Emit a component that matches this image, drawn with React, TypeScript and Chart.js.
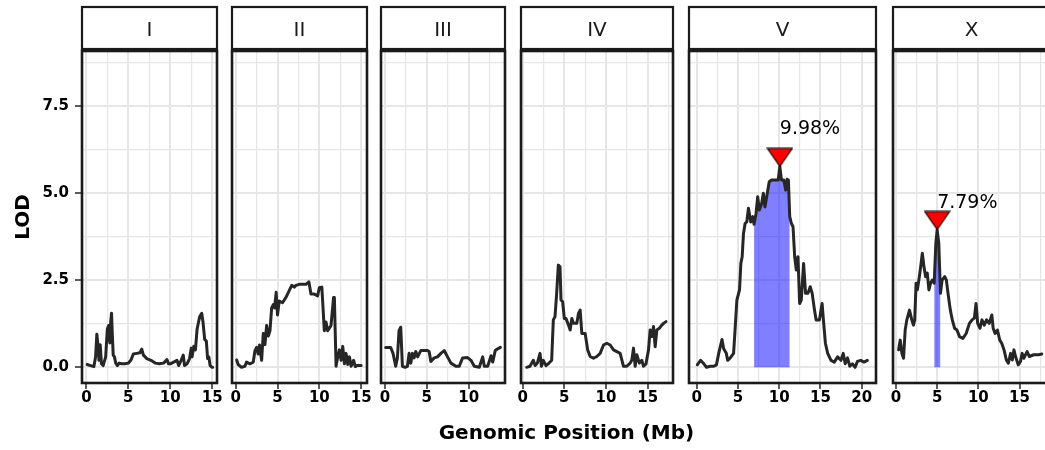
import React, { useEffect, useRef } from 'react';
import { Chart, registerables } from 'chart.js';

Chart.register(...registerables);

// ---------- data ----------
const chromNames = ['I', 'II', 'III', 'IV', 'V', 'X'];

const posI = [0.1, 0.5, 0.9, 1.1, 1.25, 1.4, 1.5, 1.65, 1.8, 2.0, 2.3, 2.5, 2.65, 2.8, 2.9, 3.0, 3.1, 3.2, 3.35, 3.5, 3.7, 3.9, 4.2, 4.6, 5.0, 5.3, 5.6, 6.0, 6.4, 6.6, 6.8, 7.2, 7.7, 8.2, 8.7, 9.2, 9.6, 9.8, 10.0, 10.4, 10.8, 11.0, 11.3, 11.55, 11.7, 12.0, 12.3, 12.5, 12.6, 12.8, 13.0, 13.2, 13.5, 13.75, 13.9, 14.1, 14.3, 14.45, 14.6, 14.75, 14.95, 15.05];
const lodI = [0.08, 0.05, 0.02, 0.3, 0.95, 0.6, 0.2, 0.65, 0.1, 0.05, 0.3, 1.1, 1.2, 0.7, 1.3, 1.55, 0.9, 0.35, 0.3, 0.12, 0.05, 0.12, 0.1, 0.1, 0.12, 0.2, 0.38, 0.4, 0.42, 0.52, 0.35, 0.25, 0.2, 0.12, 0.1, 0.12, 0.22, 0.1, 0.1, 0.15, 0.2, 0.05, 0.2, 0.35, 0.05, 0.1, 0.25, 0.55, 0.3, 0.6, 0.5, 1.1, 1.45, 1.55, 1.3, 0.8, 0.75, 0.25, 0.3, 0.05, 0.0, 0.0];

const posII = [0.12, 0.3, 0.7, 1.1, 1.3, 1.7, 2.1, 2.3, 2.5, 2.7, 2.85, 3.1, 3.3, 3.5, 3.7, 3.9, 4.1, 4.3, 4.5, 4.65, 4.84, 5.0, 5.2, 5.6, 6.0, 6.2, 6.4, 6.7, 7.0, 7.2, 7.6, 8.0, 8.4, 8.75, 9.0, 9.4, 9.8, 10.0, 10.3, 10.6, 10.8, 11.0, 11.4, 11.7, 11.8, 12.0, 12.2, 12.4, 12.6, 12.8, 13.0, 13.2, 13.4, 13.6, 13.8, 14.1, 14.3, 14.5, 15.0];
const lodII = [0.21, 0.08, 0.0, 0.03, 0.15, 0.1, 0.15, 0.47, 0.57, 0.38, 0.64, 0.2, 0.97, 0.65, 1.2, 0.9, 1.05, 1.7, 1.8, 1.7, 2.15, 1.5, 1.9, 1.85, 2.0, 2.1, 2.2, 2.35, 2.3, 2.35, 2.38, 2.38, 2.38, 2.45, 2.1, 2.1, 2.05, 2.28, 2.3, 1.05, 1.3, 1.05, 1.2, 2.0, 2.0, 0.03, 0.3, 0.5, 0.2, 0.6, 0.1, 0.4, 0.08, 0.3, 0.03, 0.2, 0.02, 0.05, 0.05];

const posIII = [0.08, 0.68, 0.96, 1.28, 1.48, 1.68, 1.88, 2.08, 2.4, 2.68, 2.88, 3.08, 3.28, 3.48, 3.68, 3.9, 4.28, 4.68, 5.08, 5.28, 5.48, 5.88, 6.28, 6.68, 7.08, 7.48, 7.88, 8.48, 8.88, 9.28, 9.88, 10.28, 10.68, 11.28, 11.68, 11.88, 12.28, 12.68, 12.88, 13.18, 13.48, 13.8];
const lodIII = [0.57, 0.57, 0.4, 0.03, 0.27, 1.05, 1.15, 0.03, 0.0, 0.03, 0.4, 0.12, 0.4, 0.27, 0.45, 0.3, 0.48, 0.48, 0.48, 0.45, 0.17, 0.27, 0.3, 0.4, 0.48, 0.3, 0.12, 0.03, 0.03, 0.27, 0.28, 0.2, 0.03, 0.0, 0.3, 0.03, 0.03, 0.33, 0.15, 0.48, 0.53, 0.57];

const posIV = [0.48, 0.88, 1.28, 1.5, 1.76, 2.08, 2.25, 2.48, 2.8, 3.08, 3.48, 3.68, 3.88, 4.08, 4.28, 4.48, 4.6, 4.8, 5.0, 5.2, 5.5, 5.7, 5.9, 6.1, 6.5, 6.7, 6.9, 7.1, 7.5, 7.8, 8.1, 8.5, 8.9, 9.3, 9.7, 10.1, 10.5, 10.9, 11.3, 11.7, 12.1, 12.5, 12.9, 13.1, 13.3, 13.5, 13.7, 14.0, 14.3, 14.5, 14.8, 15.1, 15.3, 15.5, 15.7, 15.9, 16.1, 16.4, 16.7, 16.9, 17.2];
const lodIV = [0.0, 0.03, 0.2, 0.05, 0.12, 0.4, 0.03, 0.2, 0.05, 0.1, 0.2, 1.36, 1.45, 2.12, 2.93, 2.88, 1.93, 1.88, 1.4, 1.4, 1.21, 1.07, 1.4, 1.26, 1.26, 1.55, 1.64, 0.97, 0.97, 0.5, 0.31, 0.26, 0.31, 0.4, 0.64, 0.69, 0.64, 0.5, 0.45, 0.4, 0.03, 0.03, 0.12, 0.21, 0.55, 0.03, 0.36, 0.12, 0.2, 0.03, 0.1, 0.5, 1.07, 0.88, 1.17, 0.59, 1.07, 1.12, 1.21, 1.26, 1.31];

const posV = [0.08, 0.48, 0.88, 1.2, 1.68, 2.08, 2.4, 2.68, 3.08, 3.28, 3.6, 3.76, 4.08, 4.48, 4.68, 4.88, 5.2, 5.36, 5.52, 5.68, 5.88, 6.08, 6.28, 6.56, 6.8, 6.96, 7.2, 7.4, 7.6, 7.88, 8.08, 8.28, 8.56, 8.8, 9.08, 9.48, 9.88, 10.08, 10.28, 10.56, 10.8, 10.96, 11.12, 11.28, 11.48, 11.68, 11.88, 12.08, 12.28, 12.48, 12.68, 12.96, 13.2, 13.48, 13.76, 14.0, 14.28, 14.48, 14.88, 15.2, 15.36, 15.6, 15.88, 16.28, 16.68, 17.08, 17.48, 17.76, 18.0, 18.28, 18.56, 18.88, 19.2, 19.48, 19.88, 20.28, 20.68];
const lodV = [0.07, 0.2, 0.1, 0.0, 0.03, 0.03, 0.07, 0.4, 0.8, 0.53, 0.4, 0.2, 0.27, 0.4, 1.16, 1.93, 2.22, 2.98, 3.17, 3.84, 4.13, 4.17, 4.56, 4.17, 4.32, 4.1, 4.41, 4.89, 4.51, 4.7, 4.99, 4.6, 4.99, 5.32, 5.37, 5.37, 5.37, 5.75, 5.37, 5.37, 5.08, 5.39, 5.37, 4.32, 4.13, 4.03, 3.17, 2.79, 3.17, 1.83, 1.93, 2.98, 2.12, 2.12, 2.31, 2.12, 1.64, 1.36, 1.36, 1.83, 1.36, 0.69, 0.4, 0.2, 0.15, 0.3, 0.2, 0.4, 0.1, 0.27, 0.03, 0.1, 0.0, 0.17, 0.2, 0.15, 0.2];

const posX = [0.32, 0.52, 0.72, 0.92, 1.12, 1.32, 1.64, 1.92, 2.12, 2.28, 2.44, 2.6, 2.84, 3.0, 3.2, 3.4, 3.6, 3.8, 4.0, 4.2, 4.4, 4.64, 4.84, 5.0, 5.2, 5.4, 5.6, 5.92, 6.12, 6.32, 6.6, 6.84, 7.12, 7.4, 7.72, 8.12, 8.52, 8.92, 9.24, 9.52, 9.72, 9.92, 10.2, 10.44, 10.72, 11.0, 11.32, 11.64, 11.8, 12.04, 12.32, 12.6, 12.84, 13.12, 13.4, 13.64, 13.92, 14.12, 14.32, 14.52, 14.84, 15.12, 15.32, 15.52, 15.92, 16.2, 16.72, 17.32, 17.7];
const lodX = [0.5, 0.78, 0.4, 0.26, 1.07, 1.36, 1.64, 1.36, 1.21, 1.36, 2.41, 2.22, 2.6, 2.88, 3.27, 2.88, 2.6, 2.7, 2.22, 2.41, 2.5, 2.41, 3.55, 3.94, 3.55, 2.12, 2.5, 2.6, 2.5, 2.12, 1.64, 1.36, 1.12, 1.07, 0.88, 0.83, 0.97, 1.26, 1.36, 1.41, 1.83, 1.26, 1.12, 1.36, 1.21, 1.36, 1.26, 1.5, 1.12, 0.97, 1.07, 0.78, 0.69, 0.5, 0.21, 0.12, 0.4, 0.21, 0.5, 0.31, 0.07, 0.17, 0.4, 0.26, 0.45, 0.31, 0.36, 0.36, 0.38];

const chromPos = [posI, posII, posIII, posIV, posV, posX];
const chromLod = [lodI, lodII, lodIII, lodIV, lodV, lodX];

// axis ranges (Mb) per facet, and LOD range
const axisMin = [-0.52, -0.44, -0.48, -0.2, -0.92, -0.36];
const axisMax = [15.57, 15.7, 14.35, 18.04, 21.73, 18.7];
const lodMin = -0.45;
const lodMax = 9.07;

const xTickMajor = [0, 5, 10, 15, 20];
const xTickMinor = [2.5, 7.5, 12.5, 17.5];
const yTickMajor = [0, 2.5, 5, 7.5];
const yTickMinor = [1.25, 3.75, 6.25, 8.75];

// QTL peaks
const peakChrom = ['V', 'X'];
const peakPos = [10.08, 5.0];
const peakLod = [5.75, 3.94];
const peakLabel = ['9.98%', '7.79%'];
const labelLod = [6.9, 4.76];
const ciLeft = [6.93, 4.6];
const ciRight = [11.28, 5.4];

// ---------- layout / style ----------
const FONT = "'DejaVu Sans', sans-serif";
const PX_PER_MB = 8.33;
const FIRST_LEFT = 82;
const GAP = 15.5;
const TOP = 51;
const BOTTOM = 383;
const H = 450;
const PAD = 10;
const TRI_OFFSET = 0.27;

function computeLayout() {
  const out: { L: number; R: number; cl: number; cw: number }[] = [];
  let L = FIRST_LEFT;
  for (let i = 0; i < chromNames.length; i++) {
    const R = L + (axisMax[i] - axisMin[i]) * PX_PER_MB;
    const cl = i === 0 ? 0 : L - PAD;
    const cw = Math.ceil(R + PAD - cl);
    out.push({ L, R, cl, cw });
    L = R + GAP;
  }
  return out;
}

function makeTriangle() {
  const c = document.createElement('canvas');
  c.width = 27;
  c.height = 20;
  const g = c.getContext('2d')!;
  g.beginPath();
  g.moveTo(1, 1);
  g.lineTo(26, 1);
  g.lineTo(13.5, 19);
  g.closePath();
  g.fillStyle = '#FF0000';
  g.fill();
  g.lineWidth = 1.2;
  g.strokeStyle = '#000000';
  g.stroke();
  return c;
}

const isIn = (arr: number[], v: number) => arr.some((a) => Math.abs(a - v) < 1e-6);

function buildConfig(i: number, tri: HTMLCanvasElement): any {
  const name = chromNames[i];
  const first = i === 0;
  const pts = chromPos[i].map((x, k) => ({ x, y: chromLod[i][k] }));
  const datasets: any[] = [
    {
      data: pts,
      borderColor: '#262626',
      borderWidth: 3,
      pointRadius: 0,
      fill: false,
      tension: 0,
      borderJoinStyle: 'round',
      borderCapStyle: 'round',
      order: 2,
    },
  ];
  peakChrom.forEach((c, k) => {
    if (c !== name) return;
    datasets.push({
      data: pts.filter((p) => p.x >= ciLeft[k] - 1e-9 && p.x <= ciRight[k] + 1e-9),
      borderColor: 'rgba(0,0,0,0)',
      borderWidth: 0,
      pointRadius: 0,
      fill: 'origin',
      backgroundColor: 'rgba(0,0,255,0.5)',
      tension: 0,
      order: 3,
    });
    datasets.push({
      data: [{ x: peakPos[k], y: peakLod[k] + TRI_OFFSET }],
      showLine: false,
      pointStyle: tri,
      pointRadius: 10,
      order: 1,
      clip: false,
    });
  });

  const xTicks = [...xTickMajor, ...xTickMinor]
    .filter((v) => v >= axisMin[i] && v <= axisMax[i])
    .sort((a, b) => a - b);
  const yTicks = [...yTickMajor, ...yTickMinor].sort((a, b) => a - b);

  const facetPlugin = {
    id: 'facet' + i,
    afterDatasetsDraw(chart: any) {
      const ctx = chart.ctx;
      const xs = chart.scales.x;
      const ys = chart.scales.y;
      ctx.save();
      ctx.font = `19px ${FONT}`;
      ctx.fillStyle = '#000';
      ctx.textAlign = 'left';
      ctx.textBaseline = 'alphabetic';
      peakChrom.forEach((c, k) => {
        if (c !== name) return;
        const px = xs.getPixelForValue(peakPos[k]);
        const py = ys.getPixelForValue(labelLod[k]);
        ctx.fillText(peakLabel[k], px, py + 0.365 * 19);
      });
      ctx.restore();
    },
    afterDraw(chart: any) {
      const ctx = chart.ctx;
      const a = chart.chartArea;
      ctx.save();
      // panel border
      ctx.lineWidth = 2.6;
      ctx.strokeStyle = '#1a1a1a';
      ctx.strokeRect(a.left, a.top, a.right - a.left, a.bottom - a.top);
      // strip
      ctx.fillStyle = '#ffffff';
      ctx.fillRect(a.left, 7, a.right - a.left, 42);
      ctx.lineWidth = 2.2;
      ctx.strokeRect(a.left, 7, a.right - a.left, 42);
      ctx.fillStyle = '#1a1a1a';
      ctx.font = `20px ${FONT}`;
      ctx.textAlign = 'center';
      ctx.textBaseline = 'alphabetic';
      ctx.fillText(name, (a.left + a.right) / 2, 36);
      ctx.restore();
    },
  };

  return {
    type: 'line',
    data: { datasets },
    plugins: [facetPlugin],
    options: {
      responsive: false,
      animation: false,
      events: [],
      layout: { padding: { left: first ? 0 : PAD, right: PAD, top: TOP, bottom: 0 } },
      plugins: { legend: { display: false }, tooltip: { enabled: false } },
      scales: {
        x: {
          type: 'linear',
          position: 'bottom',
          min: axisMin[i],
          max: axisMax[i],
          afterBuildTicks: (s: any) => {
            s.ticks = xTicks.map((v) => ({ value: v }));
          },
          afterFit: (s: any) => {
            s.height = H - BOTTOM;
          },
          border: { display: false },
          grid: {
            color: '#E6E6E6',
            lineWidth: (ctx: any) => (ctx.tick && isIn(xTickMajor, ctx.tick.value) ? 2 : 1.2),
            tickColor: (ctx: any) => (ctx.tick && isIn(xTickMajor, ctx.tick.value) ? '#333333' : 'rgba(0,0,0,0)'),
            tickLength: 6,
            tickWidth: 1.6,
          },
          ticks: {
            autoSkip: false,
            maxRotation: 0,
            minRotation: 0,
            padding: 0,
            color: '#000',
            font: { family: FONT, size: 15, weight: 'bold' },
            callback: (v: number) => (isIn(xTickMajor, v) ? String(v) : ''),
          },
        },
        y: {
          type: 'linear',
          position: 'left',
          min: lodMin,
          max: lodMax,
          afterBuildTicks: (s: any) => {
            s.ticks = yTicks.map((v) => ({ value: v }));
          },
          afterFit: (s: any) => {
            s.width = first ? FIRST_LEFT : 0;
          },
          border: { display: false },
          grid: {
            color: '#E6E6E6',
            lineWidth: (ctx: any) => (ctx.tick && isIn(yTickMajor, ctx.tick.value) ? 2 : 1.2),
            tickColor: (ctx: any) => (ctx.tick && isIn(yTickMajor, ctx.tick.value) ? '#333333' : 'rgba(0,0,0,0)'),
            drawTicks: first,
            tickLength: 7,
            tickWidth: 1.6,
          },
          ticks: {
            display: first,
            autoSkip: false,
            padding: 6,
            color: '#000',
            font: { family: FONT, size: 15, weight: 'bold' },
            callback: (v: number) => (isIn(yTickMajor, v) ? v.toFixed(1) : ''),
          },
          title: {
            display: first,
            text: 'LOD',
            color: '#000',
            font: { family: FONT, size: 20, weight: 'bold' },
            padding: { top: 12, bottom: 0 },
          },
        },
      },
    },
  };
}

export default function App() {
  const refs = useRef<(HTMLCanvasElement | null)[]>([]);
  const layout = computeLayout();

  useEffect(() => {
    const tri = makeTriangle();
    const charts = chromNames.map((_, i) => new Chart(refs.current[i]!, buildConfig(i, tri)));
    return () => charts.forEach((c) => c.destroy());
  }, []);

  const titleCenter = (layout[0].L + layout[layout.length - 1].R) / 2;

  return (
    <div
      style={{
        position: 'absolute',
        left: 0,
        top: 0,
        width: 1045,
        height: 450,
        overflow: 'hidden',
        background: '#ffffff',
      }}
    >
      {layout.map((p, i) => (
        <canvas
          key={i}
          ref={(el) => {
            refs.current[i] = el;
          }}
          width={p.cw}
          height={H}
          style={{ position: 'absolute', left: p.cl, top: 0, width: p.cw, height: H }}
        />
      ))}
      <div
        style={{
          position: 'absolute',
          left: titleCenter,
          top: 420,
          transform: 'translateX(-50%)',
          font: `bold 20px ${FONT}`,
          lineHeight: '24px',
          whiteSpace: 'nowrap',
          color: '#000',
        }}
      >
        Genomic Position (Mb)
      </div>
    </div>
  );
}
